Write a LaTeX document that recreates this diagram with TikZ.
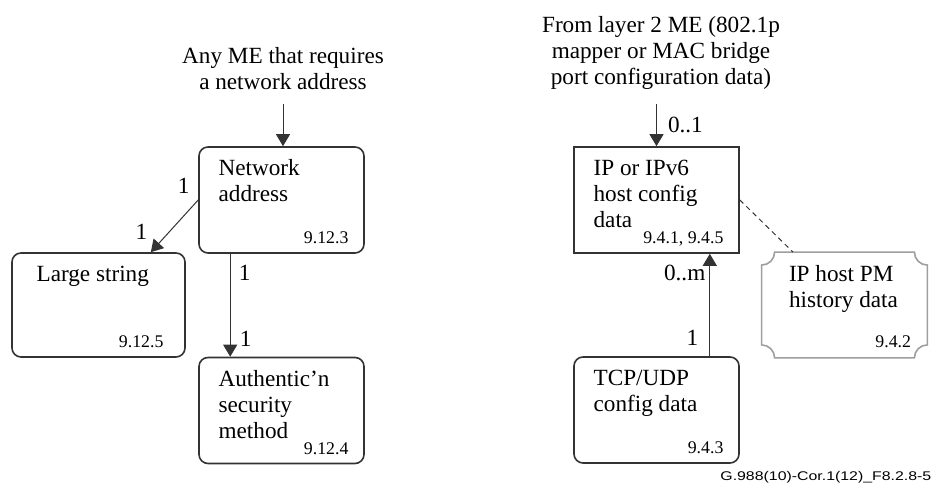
\documentclass[tikz,border=0pt]{standalone}
\usepackage{fontspec}
\setmainfont{Liberation Serif}
\newfontfamily\figidfont[FakeStretch=1.26]{Liberation Sans}
\usepackage{tikz}
\usetikzlibrary{arrows.meta,positioning}

\definecolor{boxline}{gray}{0.2}
\definecolor{implicit}{gray}{0.62}

\begin{document}
\begin{tikzpicture}[x=1pt,y=1pt,on grid,
    >={Triangle[length=6pt,width=7pt]},
    every node/.style={font=\fontsize{11.6}{13}\selectfont},
    entity/.style={draw=boxline,line width=0.8pt,rounded corners=4.5pt,
      minimum width=82.5pt,minimum height=53pt,inner sep=0pt},
    mename/.style={anchor=north west,align=left,inner sep=0pt,xshift=10pt,yshift=-6.6pt},
    refno/.style={anchor=base east,inner sep=0pt,xshift=-8pt,yshift=5pt,
      font=\fontsize{8.9}{10}\selectfont},
    note/.style={align=center,inner sep=0pt},
    mult/.style={inner sep=1.5pt,text=black},
    link/.style={color=boxline,line width=0.5pt},
    assoc/.style={draw=boxline,line width=0.5pt,dash pattern=on 2.5pt off 2pt}]
    \useasboundingbox (0,0) rectangle (469,243);

    % left hand side
    \node[entity,label={[mename,name=na-t]north west:{Network\\address}},
      label={[refno,name=na-r]south east:9.12.3}] (na) at (140.75,143) {};
    \node[entity,minimum width=86.5pt,minimum height=52pt,
      label={[mename,xshift=2.5pt,name=ls-t]north west:Large string},
      label={[refno,xshift=-3pt,name=ls-r]south east:9.12.5}] (ls) [below left=52.5pt and 91.5pt of na] {};
    \node[entity,label={[mename,name=auth-t]north west:{Authentic'n\\security\\method}},
      label={[refno,name=auth-r]south east:9.12.4}] (auth) [below=105.25pt of na] {};
    \node[note,anchor=north] (anyme) at (141.5,219.4) {Any ME that requires\\a network address};

    % right hand side
    \node[entity,sharp corners,label={[mename,name=ip-t]north west:{IP or IPv6\\host config\\data}},
      label={[refno,name=ip-r]south east:{9.4.1, 9.4.5}}] (ip) [right=187.5pt of na] {};
    \node[entity,label={[mename,name=tcp-t]north west:{TCP/UDP\\config data}},
      label={[refno,name=tcp-r]south east:9.4.3}] (tcp) [below=105pt of ip] {};
    \node[minimum width=82.5pt,minimum height=52.5pt,inner sep=0pt,
      label={[mename,xshift=3.5pt,name=pm-t]north west:{IP host PM\\history data}},
      label={[refno,name=pm-r]south east:9.4.2}] (pm) [below right=52.5pt and 94pt of ip] {};
    \draw[implicit,line width=0.8pt]
      ([yshift=-6.5pt]pm.north west) arc[start angle=-90,end angle=0,radius=6.5pt]
      -- ([xshift=-6.5pt]pm.north east) arc[start angle=180,end angle=270,radius=6.5pt]
      -- ([yshift=6.5pt]pm.south east) arc[start angle=90,end angle=180,radius=6.5pt]
      -- ([xshift=6.5pt]pm.south west) arc[start angle=0,end angle=90,radius=6.5pt]
      -- cycle;
    \node[note,anchor=north] (layer2) at (330.5,234.9)
      {From layer 2 ME (802.1p\\mapper or MAC bridge\\port configuration data)};

    \path[link,->]
    (anyme.south) edge[shorten <=7pt] (anyme.south |- na.north)
    (na.west) edge node[mult,pos=0,above left=1.6pt and 2.6pt] {1}
                   node[mult,pos=1,above left=4.6pt and 0pt] {1} ([xshift=-17.5pt]ls.north east)
    ([xshift=16pt]na.south west) edge node[mult,pos=0,below right=4.1pt and 2.6pt] {1}
                   node[mult,pos=1,above right=3.1pt and 3.1pt] {1} ([xshift=16pt]auth.north west)
    (ip.north |- layer2.south) edge[shorten <=7pt] node[mult,pos=1,above right=5pt and 4pt] {0..1} (ip.north)
    ([xshift=-15pt]tcp.north east) edge node[mult,pos=0,above left=3.6pt and 4.1pt] {1}
                   node[mult,pos=1,below left=3.7pt and 0.5pt] {0..m} ([xshift=-15pt]ip.south east);
    \draw[assoc] (ip.east) -- ([xshift=-25.75pt]pm.north);

    \node[anchor=base west,inner sep=0pt,font=\figidfont\fontsize{6.3}{7}\selectfont] (figid)
      at (360,2.65) {G.988(10)-Cor.1(12)\_F8.2.8-5};
\end{tikzpicture}
\end{document}
